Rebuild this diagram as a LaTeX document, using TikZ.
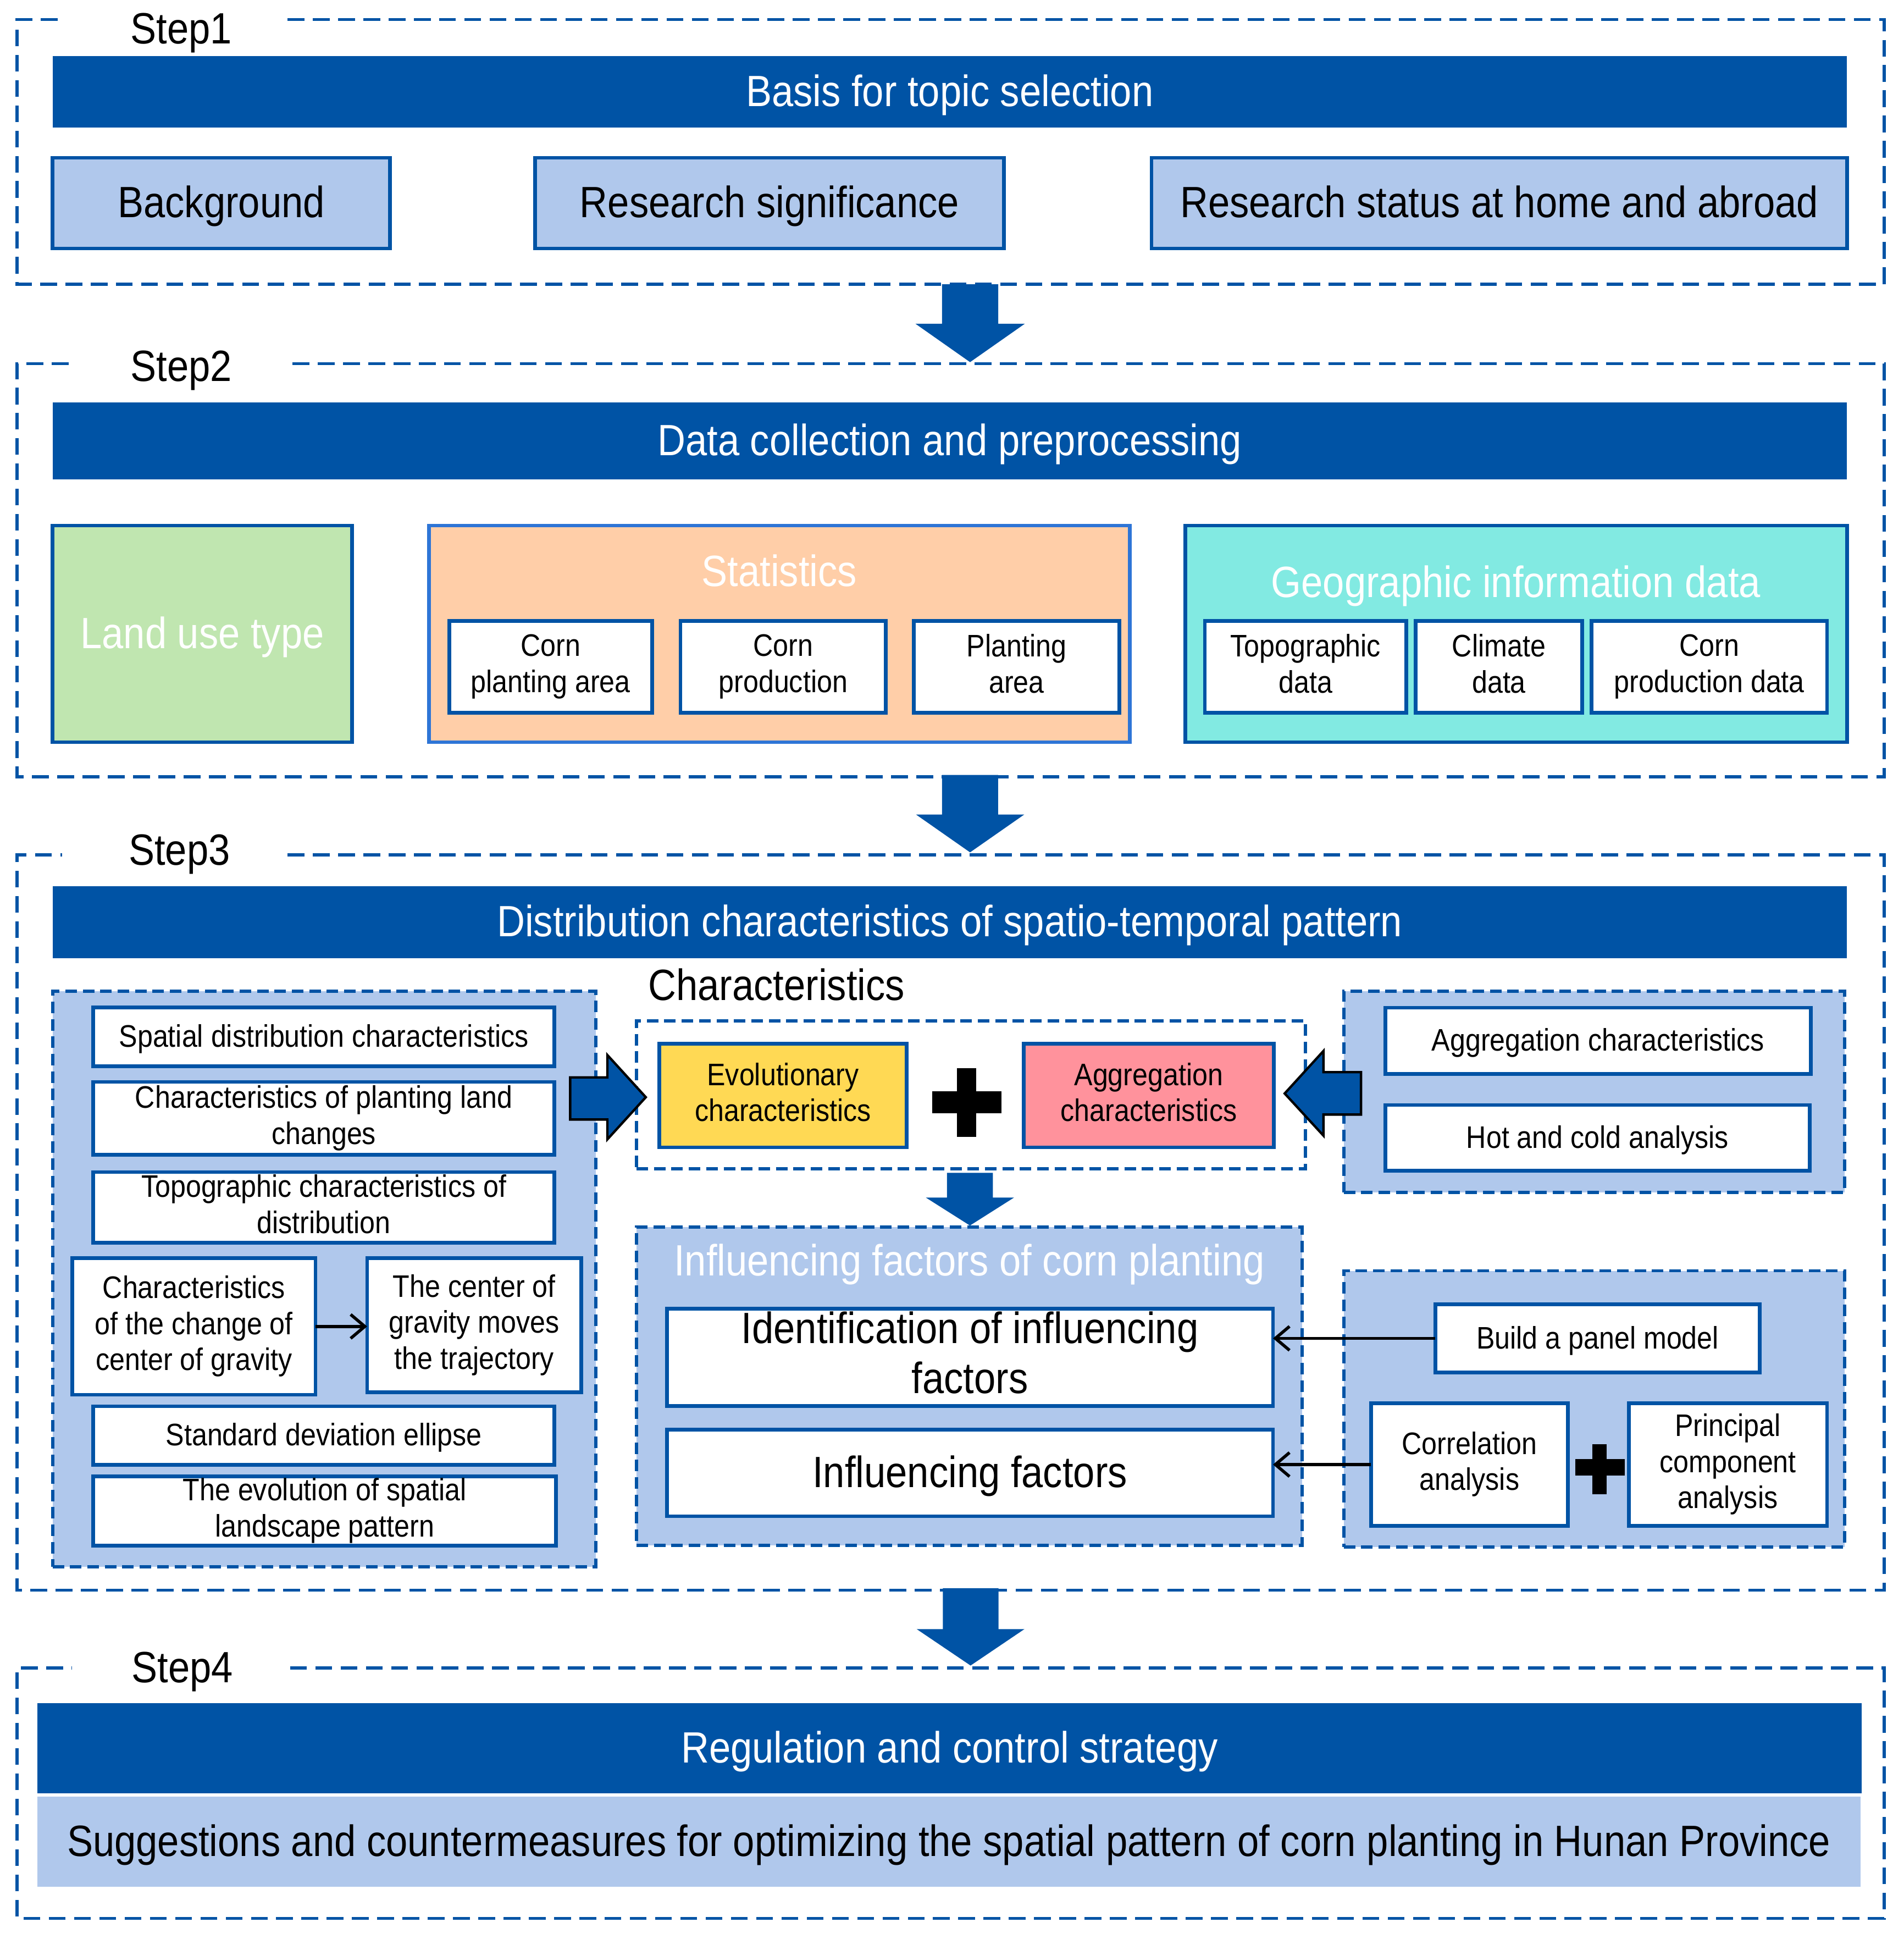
\documentclass[tikz,border=0pt]{standalone}
\usepackage{fontspec}
\setmainfont{Liberation Sans}[FakeStretch=0.886]
\usetikzlibrary{arrows.meta}
\definecolor{dblue}{RGB}{0,83,165}
\definecolor{lblue}{RGB}{176,200,236}
\definecolor{lgreen}{RGB}{192,230,176}
\definecolor{peach}{RGB}{255,206,168}
\definecolor{sblue}{RGB}{46,117,214}
\definecolor{cyanf}{RGB}{130,234,226}
\definecolor{yelf}{RGB}{255,217,84}
\definecolor{pinkf}{RGB}{255,146,156}
\newcommand\myBig{\fontsize{20.1}{23}\selectfont}
\newcommand\mySmall{\fontsize{14.3}{16.5}\selectfont}
\newcommand\myStrut{\rule[-0.22em]{0pt}{1.1em}}
\begin{document}
\begin{tikzpicture}[x=0.02cm,y=-0.02cm,
  rct/.style n args={4}{at={({(#1+#3)/2},{(#2+#4)/2})},
     minimum width={(#3-#1)*0.02cm}, minimum height={(#4-#2)*0.02cm}},
  nb/.style={inner sep=0pt, outer sep=0pt, align=center,
     execute at begin node={\myStrut}, execute at end node={\myStrut}},
  hbar/.style={nb, fill=dblue, text=white, font=\myBig},
  lbox/.style={nb, fill=lblue, draw=dblue, line width=1.7pt, font=\myBig},
  wbox/.style={nb, fill=white, draw=dblue, line width=1.7pt, font=\mySmall},
  wbig/.style={wbox, font=\myBig},
  catbox/.style={nb, draw=dblue, line width=1.7pt},
  stepdash/.style={draw=dblue, line width=1.36pt, dash pattern=on 7.7pt off 3.9pt},
  paneldash/.style={draw=dblue, line width=1.5pt, dash pattern=on 5.3pt off 2.7pt},
  panel/.style={nb, fill=lblue, paneldash},
  steplab/.style={inner sep=0pt, font=\myBig, anchor=base west},
  wtitle/.style={inner sep=0pt, font=\myBig, text=white, anchor=base},
  stepar/.style={fill=dblue},
  sidear/.style={fill=dblue, draw=black, line width=1.1pt, line join=miter},
  thinar/.style={draw=black, line width=1.4pt, -{Straight Barb[length=6.5pt,width=11pt,line width=1.4pt]}},
]
\useasboundingbox (0,0) rectangle (1536,1564);

% ---------------- Step 1 ----------------
\draw[stepdash] (232,15.8) -- (1520,15.8) -- (1520,229.3) -- (13.7,229.3) -- (13.7,15.8) -- (51,15.8);
\node[steplab] (s1) at (105,35.2) {Step1};
\node[hbar, rct={42.4}{45.1}{1490}{103}] (basis) {Basis for topic selection};
\node[lbox, rct={42.4}{127.3}{314.6}{200.4}] (bg) {Background};
\node[lbox, rct={431.6}{127.3}{810}{200.4}] (rsig) {Research significance};
\node[lbox, rct={929}{127.3}{1490}{200.4}] (rstat) {Research status at home and abroad};

\fill[stepar] (760,229.3) -- (805.3,229.3) -- (805.3,261.1) -- (826.8,261.1) -- (782.6,292.1) -- (738.5,261.1) -- (760,261.1) -- cycle;

% ---------------- Step 2 ----------------
\draw[stepdash] (236,293.2) -- (1520,293.2) -- (1520,626.5) -- (13.7,626.5) -- (13.7,293.2) -- (58,293.2);
\node[steplab] (s2) at (105,307.5) {Step2};
\node[hbar, rct={42.4}{324.5}{1490}{386.6}] (dcp) {Data collection and preprocessing};
\node[catbox, fill=lgreen, rct={42.4}{423.9}{284}{598.6}, text=white, font=\myBig] (land) {Land use type};
\node[catbox, fill=peach, draw=sblue, rct={346}{423.9}{911.4}{598.6}] (stat) {};
\node[wtitle] (stattitle) at (628.7,473) {Statistics};
\node[wbox, rct={362.4}{500.9}{526}{574.9}] (cpa) {Corn\\planting area};
\node[wbox, rct={549}{500.9}{714.6}{574.9}] (cprod) {Corn\\production};
\node[wbox, rct={737.3}{500.9}{903}{574.9}] (parea) {Planting\\area};
\node[catbox, fill=cyanf, rct={956.2}{423.9}{1490}{598.6}] (geo) {};
\node[wtitle] (geotitle) at (1223,481.6) {Geographic information data};
\node[wbox, rct={972}{500.9}{1134.6}{574.9}] (topo) {Topographic\\data};
\node[wbox, rct={1142}{500.9}{1276.5}{574.9}] (clim) {Climate\\data};
\node[wbox, rct={1284}{500.9}{1474}{574.9}] (cpd) {Corn\\production data};

\fill[stepar] (760,625.1) -- (805.2,625.1) -- (805.2,657) -- (826.3,657) -- (782.6,687.5) -- (739,657) -- (760,657) -- cycle;

% ---------------- Step 3 ----------------
\draw[stepdash] (232,689.6) -- (1520,689.6) -- (1520,1282.5) -- (13.7,1282.5) -- (13.7,689.6) -- (50,689.6);
\node[steplab] (s3) at (103.5,697.7) {Step3};
\node[hbar, rct={42.4}{715}{1490}{772.7}] (dist) {Distribution characteristics of spatio-temporal pattern};

% left panel
\node[panel, rct={42.4}{799.5}{480.8}{1263.6}] (lp) {};
\node[wbox, rct={75.3}{812.5}{447.2}{860}] (sdc) {Spatial distribution characteristics};
\node[wbox, rct={75.3}{872.7}{447.2}{931.4}] (cpl) {Characteristics of planting land\\changes};
\node[wbox, rct={75.3}{945.4}{447.2}{1002.4}] (tcd) {Topographic characteristics of\\distribution};
\node[wbox, rct={58.4}{1014.8}{254.5}{1125}] (ccg) {Characteristics\\of the change of\\center of gravity};
\node[wbox, rct={296.2}{1014.8}{469}{1122.9}] (cgm) {The center of\\gravity moves\\the trajectory};
\node[wbox, rct={75.3}{1134.3}{447.2}{1181.5}] (sde) {Standard deviation ellipse};
\node[wbox, rct={75.3}{1190.7}{448.6}{1246.7}] (esl) {The evolution of spatial\\landscape pattern};
\draw[thinar] (ccg.east) -- (ccg.east -| cgm.west);

% characteristics
\node[steplab] (chlab) at (522.7,807) {Characteristics};
\node[nb, fill=white, paneldash, rct={513.5}{823.4}{1053}{942.7}] (chbox) {};
\node[catbox, fill=yelf, font=\mySmall, rct={531.9}{842}{731.5}{925.5}] (evo) {Evolutionary\\characteristics};
\node[catbox, fill=pinkf, font=\mySmall, rct={826}{842}{1027.5}{925.5}] (agg) {Aggregation\\characteristics};
\fill[black] (752,880.4) rectangle (808,898);
\fill[black] (772,861.7) rectangle (787.4,916.8);

% right top panel
\node[panel, rct={1084}{799.4}{1488}{962}] (rtp) {};
\node[wbox, rct={1117.7}{812.8}{1460.8}{866.3}] (ac) {Aggregation characteristics};
\node[wbox, rct={1117.7}{891.3}{1460}{944.2}] (hc) {Hot and cold analysis};

% side arrows
\filldraw[sidear] (460,869) -- (490,869) -- (490,851) -- (521,885) -- (490,919) -- (490,903) -- (460,903) -- cycle;
\filldraw[sidear] (1098,864.8) -- (1067.7,864.8) -- (1067.7,847.7) -- (1036.4,882) -- (1067.7,916) -- (1067.7,899) -- (1098,899) -- cycle;

% small down arrow
\fill[stepar] (764,946) -- (801,946) -- (801,966) -- (818,966) -- (782.5,988.5) -- (747,966) -- (764,966) -- cycle;

% influencing factors panel
\node[panel, rct={513.5}{989.7}{1050.3}{1246.4}] (ifp) {};
\node[wtitle] (iftitle) at (782,1029) {Influencing factors of corn planting};
\node[wbig, rct={538}{1055.7}{1027}{1134.2}] (ident) {Identification of influencing\\factors};
\node[wbig, rct={538}{1153}{1027}{1223}] (inf) {Influencing factors};

% right bottom panel
\node[panel, rct={1084}{1025}{1488}{1248}] (rbp) {};
\node[wbox, rct={1158}{1052}{1419.7}{1107}] (bpm) {Build a panel model};
\node[wbox, rct={1106}{1131.8}{1265}{1230.8}] (corr) {Correlation\\analysis};
\node[wbox, rct={1314}{1131.8}{1474}{1230.8}] (pca) {Principal\\component\\analysis};
\fill[black] (1270.7,1177) rectangle (1310.8,1190.3);
\fill[black] (1284.8,1164.8) rectangle (1296.3,1205.3);
\draw[thinar] (bpm.west) -- (bpm.west -| ident.east);
\draw[thinar] (corr.west) -- (corr.west -| inf.east);

\fill[stepar] (760.6,1281) -- (805.5,1281) -- (805.5,1314) -- (826.5,1314) -- (783,1343.4) -- (739.5,1314) -- (760.6,1314) -- cycle;

% ---------------- Step 4 ----------------
\draw[stepdash] (234,1345.3) -- (1520,1345.3) -- (1520,1547.4) -- (13.7,1547.4) -- (13.7,1345.3) -- (58,1345.3);
\node[steplab] (s4) at (106,1357) {Step4};
\node[hbar, rct={30}{1373.7}{1502}{1446.3}] (reg) {Regulation and control strategy};
\node[nb, fill=lblue, font=\myBig, rct={30}{1449.3}{1501}{1522}] (sugg) {Suggestions and countermeasures for optimizing the spatial pattern of corn planting in Hunan Province};
\end{tikzpicture}
\end{document}
